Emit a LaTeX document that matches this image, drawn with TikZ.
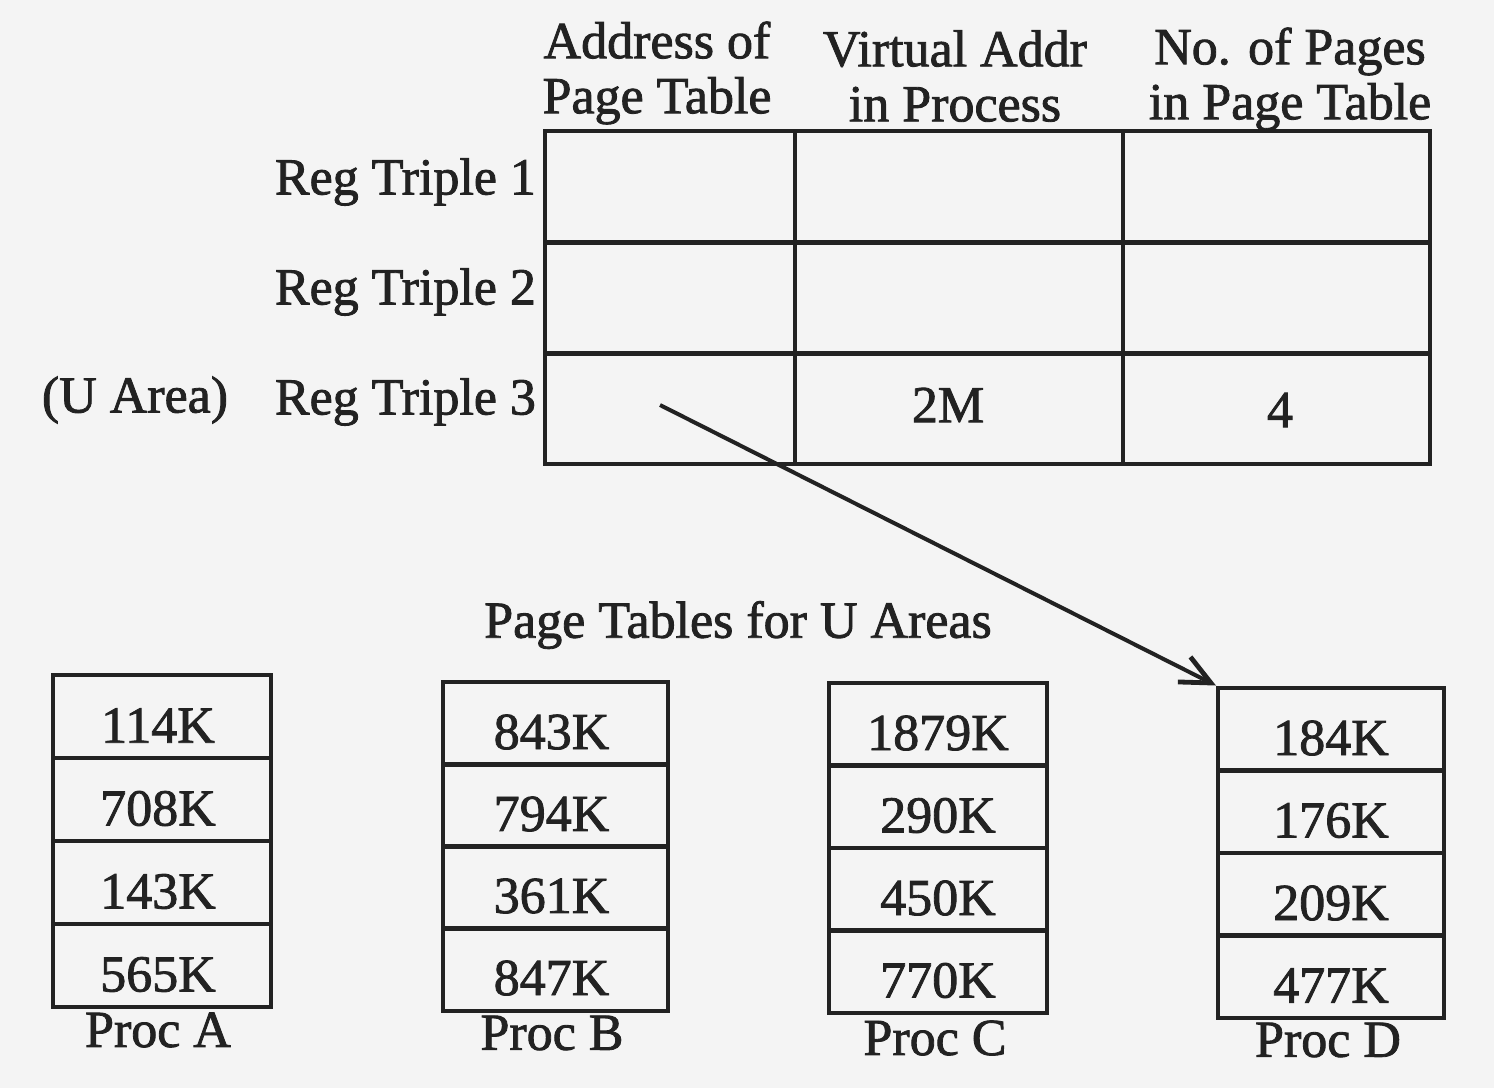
\documentclass[tikz,border=0pt]{standalone}
\usepackage{fontspec}
\setmainfont[FakeBold=1.6,AutoFakeBold=1.6]{Liberation Serif}
\usetikzlibrary{arrows.meta}
\definecolor{ink}{RGB}{34,34,34}
\definecolor{paper}{RGB}{244,244,244}
\begin{document}
\begin{tikzpicture}[x=0.5pt,y=-0.5pt,
  every node/.style={text=ink,font=\fontsize{26}{27.5}\selectfont\bfseries},
  cell/.style={draw=ink,line width=2pt,rectangle,inner sep=0pt,minimum height=55.5pt},
  box/.style={draw=ink,line width=2pt,rectangle,inner sep=0pt,minimum height=41.5pt},
  boxtext/.style={yshift=-4.5pt},
  ptr/.style={draw=ink,line width=2pt,-{Straight Barb[length=15pt,width=14pt,line width=2.4pt]}}]
\fill[paper] (0,0) rectangle (1494,1088);
\useasboundingbox (0,0) rectangle (1494,1088);
% header
\node[align=center] (h1) at (657,73) {Address of\\Page Table};
\node[align=center] (h2) at (955,76) {Virtual Addr\\in Process};
\node[align=center] (h3) at (1290,79) {No. of Pages\\in Page Table};
% table cells
\foreach \r/\y in {1/186.5,2/298,3/408.5}{
  \node[cell,minimum width=125pt] (c\r1) at (670,\y) {};
  \node[cell,minimum width=164pt] (c\r2) at (959,\y) {};
  \node[cell,minimum width=153.5pt] (c\r3) at (1276.5,\y) {};
}
\node (v32) at (948,405) {2M};
\node (v33) at (1280,410) {4};
% row labels
\node[anchor=east] (r1) at (543,182) {Reg Triple 1};
\node[anchor=east] (r2) at (543,292) {Reg Triple 2};
\node[anchor=east] (r3) at (543,402) {Reg Triple 3};
\node (ua) at (135,400) {(U Area)};
% caption
\node (cap) at (738,625) {Page Tables for U Areas};
% Proc A
\node[box,minimum width=109pt] (a1) at (162,716.5) {};
\node[box,minimum width=109pt] (a2) at (162,799.5) {};
\node[box,minimum width=109pt] (a3) at (162,882.5) {};
\node[box,minimum width=109pt] (a4) at (162,965.5) {};
\node[boxtext] (ta1) at ([xshift=-2pt]a1.center) {114K};
\node[boxtext] (ta2) at ([xshift=-2pt]a2.center) {708K};
\node[boxtext] (ta3) at ([xshift=-2pt]a3.center) {143K};
\node[boxtext] (ta4) at ([xshift=-2pt]a4.center) {565K};
\node (pa) at (158,1030) {Proc A};
% Proc B
\node[box,minimum width=112.5pt] (b1) at (555.5,723) {};
\node[box,minimum width=112.5pt] (b2) at (555.5,805) {};
\node[box,minimum width=112.5pt] (b3) at (555.5,887) {};
\node[box,minimum width=112.5pt] (b4) at (555.5,969) {};
\node[boxtext] (tb1) at ([xshift=-2pt]b1.center) {843K};
\node[boxtext] (tb2) at ([xshift=-2pt]b2.center) {794K};
\node[boxtext] (tb3) at ([xshift=-2pt]b3.center) {361K};
\node[boxtext] (tb4) at ([xshift=-2pt]b4.center) {847K};
\node (pb) at (552,1033) {Proc B};
% Proc C
\node[box,minimum width=109pt] (cc1) at (938,724) {};
\node[box,minimum width=109pt] (cc2) at (938,806.5) {};
\node[box,minimum width=109pt] (cc3) at (938,889) {};
\node[box,minimum width=109pt] (cc4) at (938,971.5) {};
\node[boxtext] (tc1) at (cc1.center) {1879K};
\node[boxtext] (tc2) at (cc2.center) {290K};
\node[boxtext] (tc3) at (cc3.center) {450K};
\node[boxtext] (tc4) at (cc4.center) {770K};
\node (pc) at (935,1038) {Proc C};
% Proc D
\node[box,minimum width=113pt] (d1) at (1331,729) {};
\node[box,minimum width=113pt] (d2) at (1331,811.5) {};
\node[box,minimum width=113pt] (d3) at (1331,894) {};
\node[box,minimum width=113pt] (d4) at (1331,976.5) {};
\node[boxtext] (td1) at (d1.center) {184K};
\node[boxtext] (td2) at (d2.center) {176K};
\node[boxtext] (td3) at (d3.center) {209K};
\node[boxtext] (td4) at (d4.center) {477K};
\node (pd) at (1328,1040) {Proc D};
% pointer
\coordinate (p0) at (660,405);
\draw[ptr] (p0) -- (d1.north west);
\end{tikzpicture}
\end{document}
